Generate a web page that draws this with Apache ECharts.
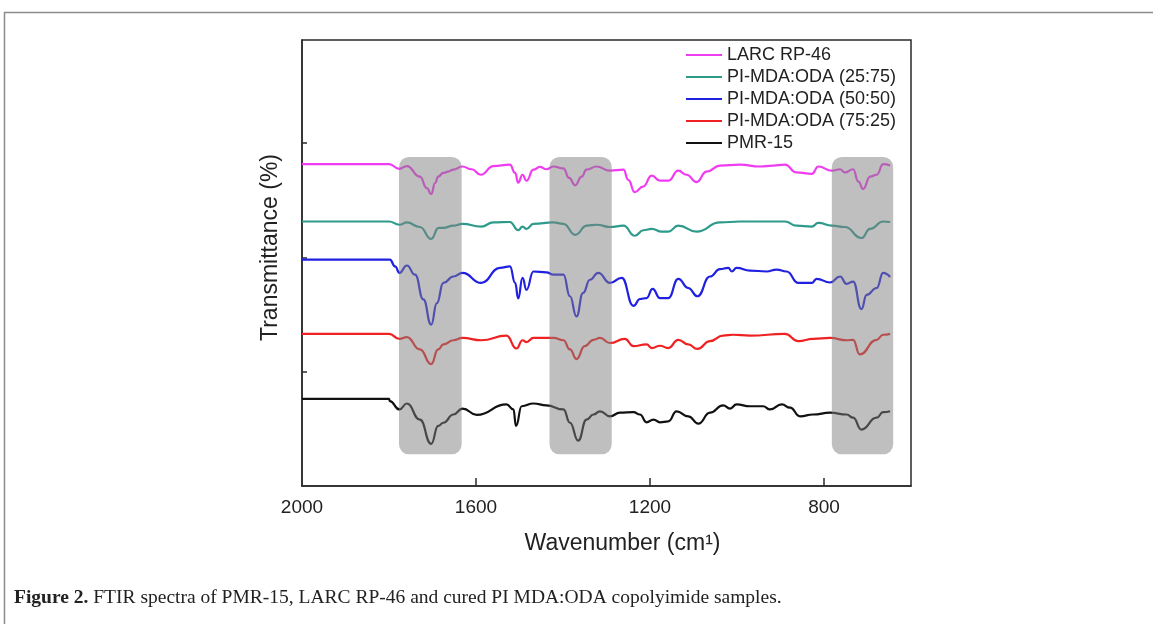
<!DOCTYPE html>
<html>
<head>
<meta charset="utf-8">
<script src="https://cdn.jsdelivr.net/npm/echarts@6/dist/echarts.min.js"></script>
<style>
html,body{margin:0;padding:0;background:#fff;}
#chart{width:1153px;height:624px;}
</style>
</head>
<body>
<div id="chart"></div>
<script>
// ---- data (wavenumber cm-1, transmittance offset units) ----
const seriesNames = ['LARC RP-46', 'PI-MDA:ODA (25:75)', 'PI-MDA:ODA (50:50)', 'PI-MDA:ODA (75:25)', 'PMR-15'];
const xTickValues = [800, 1200, 1600];
const xLabelValues = [800, 1200, 1600, 2000];
const yTickValues = [27.7, 52.6, 77.6];
// shaded regions: [from, to] wavenumber, [bottom, top] level
const bandRanges = [[1777, 1633], [1431, 1288], [782, 641]];
const bandLevels = [9.6, 74.5];

const larc = [[2000,72.9],[1800,72.9],[1776,71.9],[1759,72.5],[1729,70.2],[1713,67.7],[1703,66.4],[1694,68.8],[1687,70.2],[1675,71.0],[1664,71.3],[1652,71.7],[1632,72.4],[1610,71.8],[1589,70.6],[1560,72.5],[1522,72.8],[1510,71.0],[1503,68.9],[1493,70.6],[1484,69.3],[1468,71.7],[1453,72.3],[1438,71.8],[1422,72.4],[1399,72.0],[1386,69.9],[1372,68.3],[1357,70.2],[1346,71.7],[1323,72.4],[1292,71.5],[1261,71.7],[1250,69.5],[1235,66.8],[1216,68.0],[1196,70.4],[1177,69.3],[1158,69.3],[1135,71.5],[1116,70.6],[1093,69.0],[1070,71.3],[1039,72.6],[993,72.8],[947,72.4],[917,72.6],[890,72.8],[863,71.1],[828,70.8],[813,72.4],[782,71.5],[763,71.8],[752,71.1],[733,71.8],[721,69.1],[710,67.5],[694,70.2],[679,70.6],[664,72.9],[648,72.6]];

const mda2575 = [[2000,60.4],[1800,60.4],[1776,59.7],[1759,60.2],[1729,59.2],[1703,56.6],[1686,59.0],[1675,59.0],[1652,59.5],[1631,59.9],[1588,59.3],[1560,60.2],[1522,60.3],[1503,58.5],[1493,59.3],[1484,58.8],[1468,59.9],[1422,60.2],[1399,59.9],[1372,57.5],[1345,59.5],[1322,59.7],[1292,59.2],[1261,59.5],[1235,57.3],[1215,58.5],[1196,58.8],[1173,58.2],[1158,58.2],[1135,59.5],[1093,58.2],[1039,60.2],[993,60.4],[890,60.4],[863,59.5],[828,59.3],[813,60.1],[782,59.5],[752,59.2],[714,56.8],[694,58.8],[664,60.4],[648,60.3]];

const mda5050 = [[2000,52.1],[1798,52.1],[1786,50.6],[1776,49.2],[1759,50.8],[1740,48.8],[1721,43.4],[1703,37.9],[1690,42.6],[1675,47.0],[1652,48.4],[1631,49.2],[1588,47.0],[1545,50.3],[1522,50.6],[1510,47.0],[1503,43.6],[1493,48.1],[1484,45.5],[1468,49.5],[1438,49.3],[1422,48.8],[1399,48.8],[1384,44.1],[1369,39.7],[1354,44.8],[1338,47.7],[1319,49.2],[1292,47.0],[1265,48.1],[1238,42.0],[1223,43.5],[1208,43.7],[1194,45.7],[1177,43.7],[1158,43.7],[1135,47.9],[1112,45.9],[1091,44.1],[1062,48.4],[1039,50.0],[1020,50.3],[1012,49.5],[1001,50.3],[970,49.7],[932,49.5],[909,49.9],[886,49.5],[859,47.0],[828,47.0],[817,47.9],[786,47.1],[763,48.4],[748,46.8],[733,47.3],[714,41.3],[702,44.4],[679,45.9],[664,49.2],[648,48.3]];

const mda7525 = [[2000,35.9],[1800,35.9],[1776,34.8],[1759,35.2],[1729,32.5],[1703,29.3],[1687,32.5],[1675,33.6],[1652,34.5],[1631,35.0],[1588,34.5],[1530,35.5],[1507,32.7],[1493,34.5],[1484,34.1],[1468,35.0],[1422,35.0],[1399,34.5],[1384,32.5],[1369,30.4],[1350,33.2],[1330,34.6],[1315,35.0],[1292,33.9],[1258,34.8],[1238,33.2],[1208,33.6],[1196,32.8],[1177,33.3],[1158,32.8],[1135,34.6],[1112,33.6],[1091,32.6],[1062,34.3],[1032,35.5],[1009,35.7],[970,35.5],[890,35.9],[859,34.3],[825,34.8],[786,35.0],[748,34.5],[733,34.6],[718,31.4],[679,34.6],[664,35.7],[648,35.9]];

const pmr15 = [[2000,21.7],[1800,21.7],[1798,21.2],[1776,19.4],[1759,20.7],[1729,17.2],[1703,11.9],[1687,15.8],[1675,16.5],[1652,18.3],[1631,19.6],[1598,18.2],[1530,20.5],[1514,19.4],[1508,15.8],[1495,20.1],[1468,20.7],[1438,20.3],[1399,19.4],[1384,16.5],[1365,12.6],[1346,17.2],[1330,18.3],[1315,19.0],[1292,17.9],[1269,18.7],[1238,18.8],[1223,18.3],[1208,16.6],[1192,17.2],[1177,16.6],[1158,16.8],[1139,19.0],[1112,17.9],[1089,16.3],[1062,18.7],[1032,20.3],[1016,19.6],[1001,20.5],[970,20.1],[940,20.1],[924,19.4],[897,20.5],[878,19.8],[855,17.9],[825,18.3],[786,18.7],[748,18.3],[733,17.6],[714,15.0],[679,17.6],[664,18.8],[648,19.0]];

const seriesData = [larc, mda2575, mda5050, mda7525, pmr15];
const seriesColors = ['#f03cf0', '#2e9a8c', '#2020e0', '#ee2222', '#111111'];

const chart = echarts.init(document.getElementById('chart'), null, {renderer: 'canvas'});

const lineSeries = seriesNames.map((name, i) => ({
  name: name,
  type: 'line',
  data: seriesData[i],
  symbol: 'none',
  smooth: 0.5,
  smoothMonotone: 'x',
  lineStyle: {color: seriesColors[i], width: 2.2},
  itemStyle: {color: seriesColors[i]},
  z: 2,
  silent: true
}));

const bandSeries = {
  type: 'custom',
  z: 5,
  silent: true,
  data: bandRanges.map(r => [r[0], r[1], bandLevels[0], bandLevels[1]]),
  renderItem: function (params, api) {
    const p1 = api.coord([api.value(0), api.value(3)]);
    const p2 = api.coord([api.value(1), api.value(2)]);
    const x = Math.min(p1[0], p2[0]);
    const y = Math.min(p1[1], p2[1]);
    return {
      type: 'rect',
      shape: {x: x, y: y, width: Math.abs(p2[0] - p1[0]), height: Math.abs(p2[1] - p1[1]), r: 10},
      style: {fill: 'rgba(128,128,128,0.5)'}
    };
  }
};

const axisFont = 'Liberation Sans, Arial, sans-serif';

chart.setOption({
  animation: false,
  backgroundColor: '#ffffff',
  grid: {
    left: 302, right: 242, top: 40, bottom: 138,
    show: true, borderColor: '#2a2a2a', borderWidth: 1.5, backgroundColor: 'transparent'
  },
  legend: {
    orient: 'vertical',
    left: 681, top: 41,
    icon: 'rect',
    itemWidth: 36, itemHeight: 2, itemGap: 4,
    data: seriesNames,
    textStyle: {fontFamily: axisFont, fontSize: 18, lineHeight: 18, color: '#222'},
    selectedMode: false
  },
  xAxis: {
    type: 'value',
    inverse: true,
    min: 600, max: 2000,
    name: 'Wavenumber (cm\u00B9)',
    nameLocation: 'middle',
    nameGap: 46,
    nameTextStyle: {fontFamily: axisFont, fontSize: 23, color: '#222', padding: [0, 0, 0, 32]},
    axisLine: {show: true, lineStyle: {color: '#2a2a2a', width: 1.5}},
    axisTick: {show: true, inside: true, length: 8, customValues: xTickValues, lineStyle: {color: '#2a2a2a', width: 1.5}},
    axisLabel: {show: true, customValues: xLabelValues, margin: 12, fontFamily: axisFont, fontSize: 19, color: '#222',
      formatter: function (v) { return String(v); }},
    splitLine: {show: false}
  },
  yAxis: {
    type: 'value',
    min: 2.7, max: 100,
    name: 'Transmittance (%)',
    nameLocation: 'middle',
    nameGap: 20,
    nameTextStyle: {fontFamily: axisFont, fontSize: 23, color: '#222', padding: [0, 0, 0, 31]},
    axisLine: {show: true, lineStyle: {color: '#2a2a2a', width: 1.5}},
    axisTick: {show: true, inside: true, length: 5, customValues: yTickValues, lineStyle: {color: '#2a2a2a', width: 1.5}},
    axisLabel: {show: false},
    splitLine: {show: false}
  },
  graphic: [
    {
      type: 'polyline',
      silent: true,
      shape: {points: [[4.5, 624], [4.5, 12.5], [1153, 12.5]]},
      style: {stroke: '#8c8c8c', lineWidth: 1.5, fill: null}
    },
    {
      type: 'text',
      left: 14, top: 588,
      silent: true,
      style: {
        text: '{b|Figure 2.} FTIR spectra of PMR-15, LARC RP-46 and cured PI MDA:ODA copolyimide samples.',
        font: '19.5px "Liberation Serif", serif',
        fill: '#222',
        rich: {b: {fontWeight: 'bold', fontFamily: 'Liberation Serif', fontSize: 19.5, fill: '#222'}}
      }
    }
  ],
  series: lineSeries.concat([bandSeries])
});
</script>
</body>
</html>
